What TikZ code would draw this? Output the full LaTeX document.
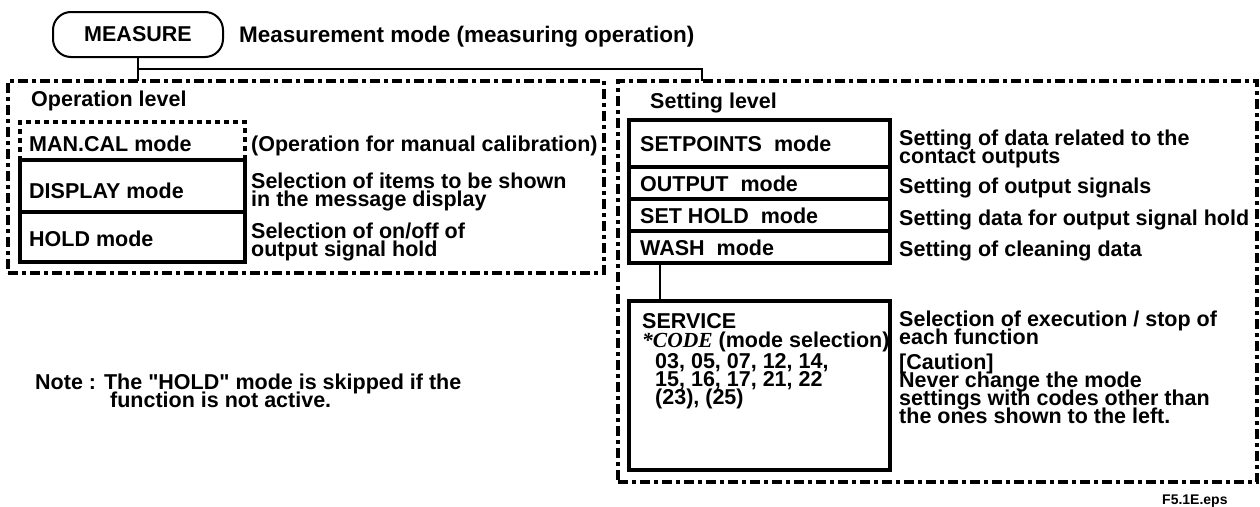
\documentclass[tikz,border=0pt]{standalone}
\usepackage{fontspec}
\setmainfont{Liberation Sans}
\newfontfamily\codefont{Liberation Serif}
\newcommand\straightq{\XeTeXglyph\XeTeXcharglyph"22\relax}
\lineskiplimit=-100pt
\begin{document}
\begin{tikzpicture}[x=1pt,y=-1pt,
  font=\fontsize{21.5}{18}\selectfont\bfseries,
  lvl/.style={draw, line width=3.5pt, dash pattern=on 10pt off 4pt on 4pt off 4pt, inner sep=0pt, outer sep=0pt, anchor=north west},
  dotbox/.style={draw, line width=3.5pt, dash pattern=on 5pt off 4pt, inner sep=0pt, outer sep=0pt, anchor=north west},
  mbox/.style={draw, line width=4pt, inner sep=0pt, outer sep=0pt, anchor=north west, minimum width=261pt},
  obox/.style={draw, line width=4pt, inner sep=0pt, outer sep=0pt, anchor=north west, minimum width=225pt},
  txt/.style={anchor=base west, inner sep=0pt, align=left},
  conn/.style={draw, line width=2pt},
  small/.style={font=\fontsize{14}{16}\selectfont\bfseries}
]
\useasboundingbox (0,0) rectangle (1260,506);

% level containers
\node[lvl, minimum width=596pt, minimum height=192pt] (oplevel) at (8,81) {};
\node[lvl, minimum width=639pt, minimum height=401pt] (setlevel) at (618,81) {};

% top node
\node[draw, line width=2pt, rounded corners=18pt, minimum width=170pt, minimum height=45pt, inner sep=0pt, outer sep=0pt] (measure) at (138,34.5) {MEASURE};
\node[txt, font=\fontsize{22.5}{18}\selectfont\bfseries] (measdesc) at (239,42) {Measurement mode (measuring operation)};

% connectors from MEASURE
\coordinate (j1) at (138,69);
\coordinate (sj) at (702,81);
\draw[conn] (measure.south) -- (measure.south |- oplevel.north);
\draw[conn] (j1) -| (sj);

% operation level
\node[txt] (optitle) at (31,106) {Operation level};
\node[dotbox, minimum width=225pt, minimum height=38pt] (mancal) at (20,122) {};
\node[obox, minimum height=52pt] (display) at (20,160) {};
\node[obox, minimum height=50pt] (hold) at (20,212) {};
\node[txt] (mancalt) at (29,151) {MAN.CAL mode};
\node[txt] (displayt) at (29,198) {DISPLAY mode};
\node[txt] (holdt) at (29,246) {HOLD mode};
\node[txt] (mancald) at (251,151) {(Operation for manual calibration)};
\node[txt] (displayd) at (251,206) {Selection of items to be shown\\in the message display};
\node[txt] (holdd) at (251,256) {Selection of on/off of\\output signal hold};

% setting level
\node[txt] (settitle) at (650,108) {Setting level};
\node[mbox, minimum height=47pt] (setp) at (629,120) {};
\node[mbox, minimum height=32pt] (output) at (629,167) {};
\node[mbox, minimum height=32pt] (sethold) at (629,199) {};
\node[mbox, minimum height=32pt] (wash) at (629,231) {};
\node[mbox, minimum height=169pt] (service) at (629,301) {};
\coordinate (sx) at (660,0);
\draw[conn] (wash.south -| sx) -- (service.north -| sx);

\node[txt] (setpt) at (640,151) {SETPOINTS~ mode};
\node[txt] (outputt) at (640,191) {OUTPUT~ mode};
\node[txt] (setholdt) at (640,223) {SET HOLD~ mode};
\node[txt] (washt) at (640,255) {WASH~ mode};
\node[txt] (setpd) at (899,163) {Setting of data related to the\\contact outputs};
\node[txt] (outputd) at (899,193) {Setting of output signals};
\node[txt] (setholdd) at (899,225) {Setting data for output signal hold};
\node[txt] (washd) at (899,256) {Setting of cleaning data};

% service
\node[txt] (serv1) at (642,328) {SERVICE};
\node[txt] (serv2) at (642,347) {{\codefont\bfseries\itshape *CODE} (mode selection)};
\node[txt] (serv3) at (655,404) {03, 05, 07, 12, 14,\\15, 16, 17, 21, 22\\(23), (25)};
\node[txt] (servd1) at (899,344) {Selection of execution / stop of\\each function};
\node[txt] (servd2) at (899,423) {[Caution]\\Never change the mode\\settings with codes other than\\the ones shown to the left.};

% note
\node[txt] (note1) at (35,389) {Note : The \straightq HOLD\straightq{} mode is skipped if the};
\node[txt] (note2) at (110,407) {function is not active.};

\node[txt, small] (fig) at (1162,504) {F5.1E.eps};
\end{tikzpicture}
\end{document}
